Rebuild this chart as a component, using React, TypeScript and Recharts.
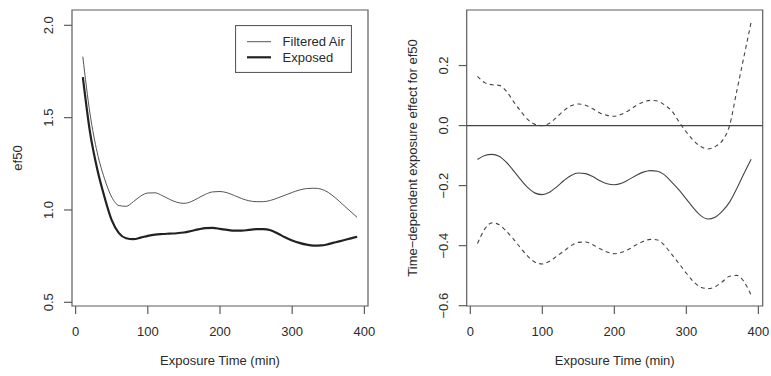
import React from 'react';
import { LineChart, Line, XAxis, YAxis, ReferenceArea, ReferenceLine, Legend } from 'recharts';

const times = [10, 20, 30, 40, 50, 60, 70, 80, 90, 100, 110, 120, 130, 140, 150, 160, 170, 180, 190, 200,
  210, 220, 230, 240, 250, 260, 270, 280, 290, 300, 310, 320, 330, 340, 350, 360, 370, 380, 390];

const filteredAir = [1.83, 1.52, 1.31, 1.17, 1.07, 1.024, 1.02, 1.045, 1.075, 1.092,
  1.093, 1.078, 1.058, 1.042, 1.036, 1.045, 1.065, 1.085, 1.098, 1.1,
  1.093, 1.078, 1.062, 1.05, 1.045, 1.045, 1.052, 1.065, 1.08, 1.095,
  1.108, 1.116, 1.118, 1.113, 1.095, 1.065, 1.03, 0.995, 0.96];

const exposed = [1.72, 1.42, 1.22, 1.07, 0.945, 0.875, 0.847, 0.842, 0.85, 0.86,
  0.867, 0.87, 0.872, 0.874, 0.878, 0.886, 0.895, 0.902, 0.903, 0.898,
  0.892, 0.888, 0.888, 0.892, 0.896, 0.896, 0.89, 0.873, 0.852, 0.835,
  0.822, 0.812, 0.807, 0.808, 0.815, 0.825, 0.835, 0.845, 0.855];

const effect = [-0.113, -0.1, -0.096, -0.102, -0.122, -0.15, -0.18, -0.207, -0.225, -0.23,
  -0.222, -0.204, -0.183, -0.166, -0.158, -0.16, -0.17, -0.184, -0.194, -0.197,
  -0.192, -0.18, -0.166, -0.155, -0.15, -0.152, -0.165, -0.189, -0.215, -0.245,
  -0.275, -0.3, -0.311, -0.305, -0.285, -0.255, -0.21, -0.16, -0.112];

const effectUpper = [0.164, 0.143, 0.136, 0.134, 0.115, 0.08, 0.048, 0.02, 0.004, 0.0,
  0.008, 0.028, 0.05, 0.066, 0.072, 0.068, 0.056, 0.042, 0.034, 0.031,
  0.038, 0.05, 0.066, 0.078, 0.084, 0.082, 0.068, 0.048, 0.012, -0.022,
  -0.05, -0.07, -0.078, -0.07, -0.05, 0.0, 0.115, 0.23, 0.345];

const effectLower = [-0.393, -0.345, -0.324, -0.33, -0.352, -0.378, -0.408, -0.436, -0.455, -0.461,
  -0.452, -0.435, -0.418, -0.4, -0.389, -0.388, -0.397, -0.41, -0.421, -0.427,
  -0.422, -0.412, -0.398, -0.386, -0.379, -0.381, -0.4, -0.43, -0.46, -0.492,
  -0.52, -0.538, -0.543, -0.537, -0.52, -0.502, -0.499, -0.52, -0.565];

const xTicks = [0, 100, 200, 300, 400];
const leftYTicks = [0.5, 1.0, 1.5, 2.0];
const rightYTicks = [-0.6, -0.4, -0.2, 0, 0.2];
const legendLabels = ['Filtered Air', 'Exposed'];

const leftData = times.map((t, i) => ({ t, filtered: filteredAir[i], exposed: exposed[i] }));
const rightData = times.map((t, i) => ({ t, est: effect[i], upper: effectUpper[i], lower: effectLower[i] }));

const FONT = '"Liberation Sans", Arial, Helvetica, sans-serif';
const TEXT = '#2b2b2b';
const FRAME = '#5c5c5c';

const fmt = (v: number) => (v < 0 ? '\u2212' : '') + Math.abs(v).toFixed(1);

const XTick = (props: any) => {
  const { x, y, payload } = props;
  return (
    <text x={x} y={y + 22} textAnchor="middle" fontSize={13} fontFamily={FONT} fill={TEXT}>
      {payload.value}
    </text>
  );
};

const YTick = (props: any) => {
  const { x, y, payload } = props;
  const bx = x - 11;
  return (
    <text x={bx} y={y} transform={`rotate(-90, ${bx}, ${y})`} textAnchor="middle" fontSize={13} fontFamily={FONT} fill={TEXT}>
      {fmt(payload.value)}
    </text>
  );
};

const xTitle = (props: any) => {
  const vb = props.viewBox;
  return (
    <text x={vb.x + vb.width / 2} y={vb.y + 58.5} textAnchor="middle" fontSize={13} fontFamily={FONT} fill={TEXT}>
      Exposure Time (min)
    </text>
  );
};

const yTitle = (text: string, offset: number) => (props: any) => {
  const vb = props.viewBox;
  const cx = vb.x + offset;
  const cy = vb.y + vb.height / 2;
  return (
    <text x={cx} y={cy} transform={`rotate(-90, ${cx}, ${cy})`} textAnchor="middle" fontSize={13} fontFamily={FONT} fill={TEXT}>
      {text}
    </text>
  );
};

const LegendBox = () => (
  <svg width={117} height={48} style={{ display: 'block' }}>
    <rect x={0.5} y={0.5} width={116} height={47} fill="#fff" stroke={FRAME} strokeWidth={1.2} />
    <line x1={12} x2={36} y1={16.7} y2={16.7} stroke="#555" strokeWidth={1} />
    <line x1={12} x2={36} y1={32.3} y2={32.3} stroke="#222" strokeWidth={2.2} />
    <text x={47.6} y={21.3} fontSize={13} fontFamily={FONT} fill={TEXT}>{legendLabels[0]}</text>
    <text x={47.6} y={37} fontSize={13} fontFamily={FONT} fill={TEXT}>{legendLabels[1]}</text>
  </svg>
);

export default function App() {
  return (
    <div style={{ position: 'absolute', left: 0, top: 0, width: 771, height: 376, background: '#fff', fontFamily: FONT }}>
      <div style={{ position: 'absolute', left: 0, top: 0 }}>
        <LineChart width={385} height={376} data={leftData} margin={{ top: 10, right: 17, bottom: 0, left: 0 }}>
          <XAxis
            dataKey="t"
            type="number"
            domain={[-5, 405]}
            ticks={xTicks}
            interval={0}
            height={70}
            tickSize={8}
            tickMargin={0}
            axisLine={false}
            tickLine={{ stroke: FRAME, strokeWidth: 1.2 }}
            tick={<XTick />}
            label={{ content: xTitle }}
          />
          <YAxis
            type="number"
            domain={[0.48, 2.083]}
            ticks={leftYTicks}
            interval={0}
            width={72}
            tickSize={8}
            tickMargin={0}
            axisLine={false}
            tickLine={{ stroke: FRAME, strokeWidth: 1.2 }}
            tick={<YTick />}
            label={{ content: yTitle('ef50', 22) }}
          />
          <ReferenceArea x1={-5} x2={405} y1={0.48} y2={2.083} fill="none" stroke={FRAME} strokeWidth={1.2} ifOverflow="visible" />
          <Legend verticalAlign="middle" align="center" layout="horizontal" content={<LegendBox />}
            wrapperStyle={{ left: 234.7, top: 25, width: 117, height: 48 }} />
          <Line type="monotone" dataKey="filtered" name={legendLabels[0]} stroke="#555" strokeWidth={1} dot={false} isAnimationActive={false} />
          <Line type="monotone" dataKey="exposed" name={legendLabels[1]} stroke="#222" strokeWidth={2.2} dot={false} isAnimationActive={false} />
        </LineChart>
      </div>
      <div style={{ position: 'absolute', left: 385, top: 0 }}>
        <LineChart width={386} height={376} data={rightData} margin={{ top: 10, right: 8.3, bottom: 0, left: 0 }}>
          <XAxis
            dataKey="t"
            type="number"
            domain={[-5, 406]}
            ticks={xTicks}
            interval={0}
            height={70}
            tickSize={8}
            tickMargin={0}
            axisLine={false}
            tickLine={{ stroke: FRAME, strokeWidth: 1.2 }}
            tick={<XTick />}
            label={{ content: xTitle }}
          />
          <YAxis
            type="number"
            domain={[-0.601, 0.385]}
            ticks={rightYTicks}
            interval={0}
            width={81.7}
            tickSize={8}
            tickMargin={0}
            axisLine={false}
            tickLine={{ stroke: FRAME, strokeWidth: 1.2 }}
            tick={<YTick />}
            label={{ content: yTitle('Time\u2212dependent exposure effect for ef50', 31.6) }}
          />
          <ReferenceArea x1={-5} x2={406} y1={-0.601} y2={0.385} fill="none" stroke={FRAME} strokeWidth={1.2} ifOverflow="visible" />
          <ReferenceLine y={0} stroke="#444" strokeWidth={1.2} />
          <Line type="monotone" dataKey="upper" stroke="#444" strokeWidth={1.1} strokeDasharray="4 3.5" dot={false} isAnimationActive={false} />
          <Line type="monotone" dataKey="est" stroke="#444" strokeWidth={1.1} dot={false} isAnimationActive={false} />
          <Line type="monotone" dataKey="lower" stroke="#444" strokeWidth={1.1} strokeDasharray="4 3.5" dot={false} isAnimationActive={false} />
        </LineChart>
      </div>
    </div>
  );
}
